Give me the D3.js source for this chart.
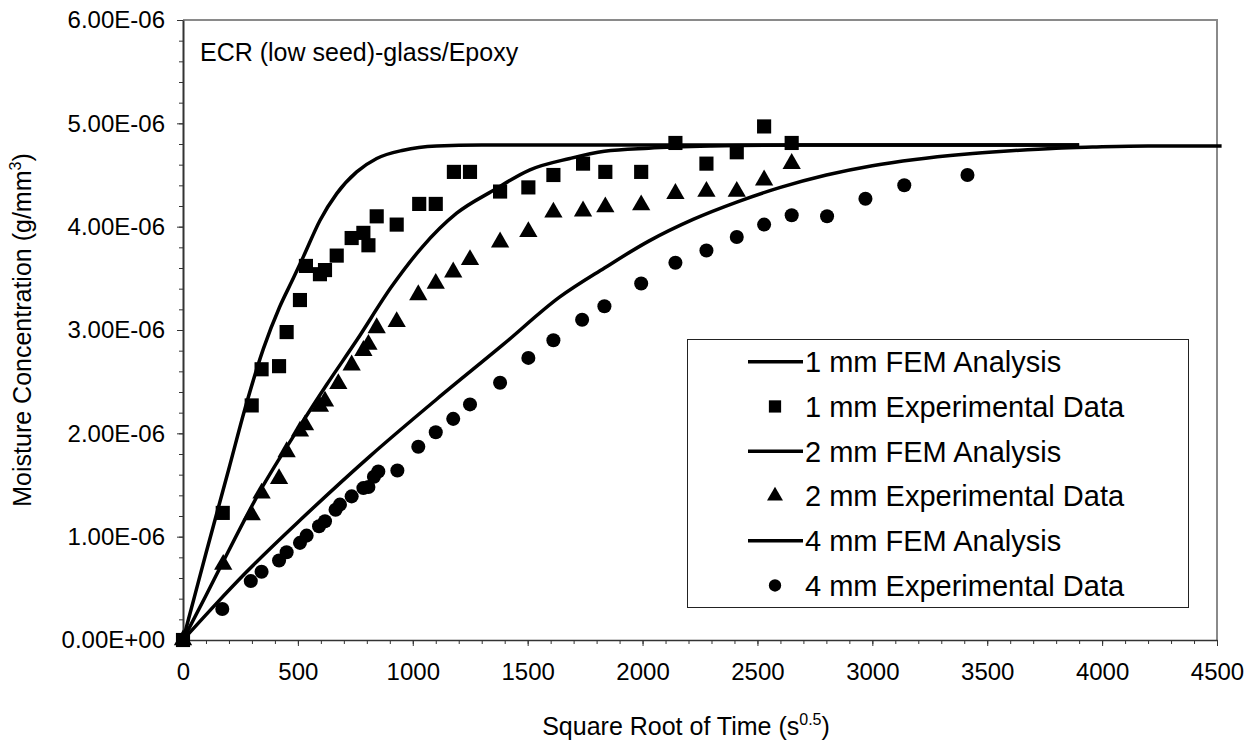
<!DOCTYPE html>
<html><head><meta charset="utf-8">
<script src="https://cdn.jsdelivr.net/npm/d3@7"></script>
<style>
body{margin:0;background:#fff}
text{font-family:"Liberation Sans",Arial,Helvetica,sans-serif;fill:#000}
</style>
</head><body>
<svg id="chart" width="1257" height="741"></svg>
<script>
// ---- data (x = square root of time, s^0.5; y = moisture concentration, g/mm^3) ----
const xTicks = [0,500,1000,1500,2000,2500,3000,3500,4000,4500];
const xTickLabels = ["0","500","1000","1500","2000","2500","3000","3500","4000","4500"];
const yTicks = [0,1e-6,2e-6,3e-6,4e-6,5e-6,6e-6];
const yTickLabels = ["0.00E+00","1.00E-06","2.00E-06","3.00E-06","4.00E-06","5.00E-06","6.00E-06"];

const fem1 = [[0,0],[50,0.42e-6],[100,0.84e-6],[150,1.25e-6],[200,1.66e-6],[270,2.24e-6],[350,2.82e-6],[420,3.22e-6],[480,3.50e-6],[524,3.71e-6],[596,4.06e-6],[669,4.32e-6],[756,4.53e-6],[843,4.66e-6],[959,4.74e-6],[1104,4.78e-6],[1300,4.79e-6],[1700,4.79e-6],[3900,4.79e-6]];
const exp1 = [[0,0],[173,1.23e-6],[299,2.27e-6],[342,2.62e-6],[418,2.65e-6],[451,2.98e-6],[509,3.29e-6],[535,3.62e-6],[596,3.54e-6],[618,3.58e-6],[669,3.72e-6],[734,3.89e-6],[785,3.94e-6],[807,3.82e-6],[843,4.10e-6],[930,4.02e-6],[1028,4.22e-6],[1100,4.22e-6],[1179,4.53e-6],[1249,4.53e-6],[1380,4.34e-6],[1503,4.38e-6],[1612,4.50e-6],[1741,4.61e-6],[1838,4.53e-6],[1994,4.53e-6],[2143,4.81e-6],[2278,4.61e-6],[2410,4.72e-6],[2529,4.97e-6],[2649,4.81e-6]];

const fem2 = [[0,0],[100,0.43e-6],[175,0.76e-6],[335,1.44e-6],[509,2.07e-6],[625,2.47e-6],[756,2.90e-6],[908,3.42e-6],[1040,3.80e-6],[1191,4.13e-6],[1350,4.35e-6],[1510,4.55e-6],[1684,4.66e-6],[1834,4.73e-6],[2027,4.76e-6],[2300,4.78e-6],[2700,4.79e-6],[3900,4.79e-6]];
const exp2 = [[0,0],[175,0.73e-6],[299,1.21e-6],[342,1.42e-6],[418,1.56e-6],[451,1.82e-6],[509,2.02e-6],[531,2.08e-6],[596,2.26e-6],[618,2.31e-6],[676,2.48e-6],[734,2.66e-6],[785,2.80e-6],[807,2.86e-6],[843,3.02e-6],[930,3.08e-6],[1024,3.34e-6],[1100,3.45e-6],[1176,3.56e-6],[1249,3.68e-6],[1380,3.85e-6],[1503,3.95e-6],[1612,4.14e-6],[1741,4.15e-6],[1838,4.19e-6],[1994,4.21e-6],[2143,4.32e-6],[2278,4.34e-6],[2410,4.34e-6],[2529,4.45e-6],[2649,4.61e-6]];

const fem4 = [[0,0],[140,0.34e-6],[277,0.66e-6],[524,1.19e-6],[814,1.78e-6],[1104,2.33e-6],[1394,2.86e-6],[1640,3.32e-6],[1834,3.60e-6],[2027,3.86e-6],[2220,4.07e-6],[2413,4.24e-6],[2600,4.38e-6],[2800,4.50e-6],[3000,4.59e-6],[3186,4.65e-6],[3400,4.70e-6],[3572,4.73e-6],[3800,4.76e-6],[3958,4.77e-6],[4200,4.78e-6],[4520,4.78e-6]];
const exp4 = [[0,0],[171,0.30e-6],[295,0.57e-6],[342,0.66e-6],[418,0.77e-6],[451,0.85e-6],[509,0.94e-6],[538,1.01e-6],[592,1.10e-6],[618,1.15e-6],[664,1.26e-6],[683,1.31e-6],[734,1.39e-6],[785,1.47e-6],[807,1.48e-6],[831,1.58e-6],[850,1.63e-6],[933,1.64e-6],[1024,1.87e-6],[1100,2.01e-6],[1176,2.14e-6],[1249,2.28e-6],[1380,2.49e-6],[1503,2.73e-6],[1612,2.90e-6],[1737,3.10e-6],[1834,3.23e-6],[1994,3.45e-6],[2143,3.65e-6],[2278,3.77e-6],[2410,3.90e-6],[2529,4.02e-6],[2649,4.11e-6],[2803,4.10e-6],[2970,4.27e-6],[3139,4.40e-6],[3414,4.50e-6]];

const legendLabels = ["1 mm FEM Analysis","1 mm Experimental Data","2 mm FEM Analysis","2 mm Experimental Data","4 mm FEM Analysis","4 mm Experimental Data"];
const annotation = "ECR (low seed)-glass/Epoxy";

// ---- layout ----
const svg = d3.select("#chart");
const L = 183, R = 1217, T = 20, B = 640;
const x = d3.scaleLinear().domain([0,4500]).range([L,R]);
const y = d3.scaleLinear().domain([0,6e-6]).range([B,T]);

// frame (top & right)
svg.append("path").attr("d",`M${L},${T}H${R}V${B}`).attr("fill","none").attr("stroke","#8a8a8a").attr("stroke-width",2);

// minor ticks
const xMinor = d3.range(0,4501,100);
const yMinor = d3.range(0,31).map(i=>i*0.2e-6);
svg.append("g").attr("transform",`translate(0,${B})`)
  .call(d3.axisBottom(x).tickValues(xMinor).tickSize(4).tickFormat(""))
  .call(g=>g.select(".domain").remove())
  .call(g=>g.selectAll("line").attr("stroke","#333").attr("stroke-width",1));
svg.append("g").attr("transform",`translate(${L},0)`)
  .call(d3.axisLeft(y).tickValues(yMinor).tickSize(4).tickFormat(""))
  .call(g=>g.select(".domain").remove())
  .call(g=>g.selectAll("line").attr("stroke","#333").attr("stroke-width",1));

// major axes
const xAxis = svg.append("g").attr("transform",`translate(0,${B})`)
  .call(d3.axisBottom(x).tickValues(xTicks).tickSize(6).tickPadding(17).tickSizeOuter(0).tickFormat((d,i)=>xTickLabels[i]));
xAxis.select(".domain").attr("stroke","#333").attr("stroke-width",1.5);
xAxis.selectAll("line").attr("stroke","#333").attr("stroke-width",1);
xAxis.selectAll("text").style("font-size","24px").attr("fill","#000");

const yAxis = svg.append("g").attr("transform",`translate(${L},0)`)
  .call(d3.axisLeft(y).tickValues(yTicks).tickSize(6).tickPadding(12).tickSizeOuter(0).tickFormat((d,i)=>yTickLabels[i]));
yAxis.select(".domain").attr("stroke","#333").attr("stroke-width",2);
yAxis.selectAll("line").attr("stroke","#333").attr("stroke-width",1);
yAxis.selectAll("text").style("font-size","24px").attr("fill","#000");

// axis titles
const xt = svg.append("text").attr("x",686).attr("y",735).attr("text-anchor","middle").style("font-size","25px");
xt.append("tspan").text("Square Root of Time (s");
xt.append("tspan").text("0.5").style("font-size","16px").attr("dy",-10);
xt.append("tspan").text(")").attr("dy",10);

const yt = svg.append("text").attr("transform","translate(31,330) rotate(-90)").attr("text-anchor","middle").style("font-size","25px");
yt.append("tspan").text("Moisture Concentration (g/mm");
yt.append("tspan").text("3").style("font-size","16px").attr("dy",-10);
yt.append("tspan").text(")").attr("dy",10);

// annotation
svg.append("text").attr("x",200).attr("y",61).style("font-size","25px").text(annotation);

// lines
const line = d3.line().x(d=>x(d[0])).y(d=>y(d[1])).curve(d3.curveMonotoneX);
[fem1,fem2,fem4].forEach(s=>{
  svg.append("path").datum(s).attr("d",line).attr("fill","none").attr("stroke","#000").attr("stroke-width",3.5).attr("stroke-linejoin","round");
});

// markers
const sq = d3.symbol().type(d3.symbolSquare).size(200);
const tri = d3.symbol().type(d3.symbolTriangle).size(145);
const cir = d3.symbol().type(d3.symbolCircle).size(155);
function marks(data, sym){
  svg.append("g").selectAll("path").data(data).join("path")
    .attr("transform",d=>`translate(${x(d[0])},${y(d[1])})`).attr("d",sym).attr("fill","#000");
}
marks(exp4,cir); marks(exp2,tri); marks(exp1,sq);

// legend
const lg = svg.append("g");
lg.append("rect").attr("x",687.5).attr("y",339.5).attr("width",501).attr("height",268).attr("fill","#fff").attr("stroke","#222").attr("stroke-width",1);
const ly0 = 361.7, ldy = 44.75;
const syms = [null, d3.symbol().type(d3.symbolSquare).size(150), null, d3.symbol().type(d3.symbolTriangle).size(110), null, d3.symbol().type(d3.symbolCircle).size(120)];
legendLabels.forEach((lab,i)=>{
  const yy = ly0 + i*ldy;
  if(syms[i]===null){
    lg.append("line").attr("x1",748).attr("x2",803).attr("y1",yy).attr("y2",yy).attr("stroke","#000").attr("stroke-width",3.5);
  } else {
    lg.append("path").attr("transform",`translate(775,${yy})`).attr("d",syms[i]).attr("fill","#000");
  }
  lg.append("text").attr("x",805).attr("y",yy).attr("dy","0.36em").style("font-size","29px").text(lab);
});
</script>
</body></html>
